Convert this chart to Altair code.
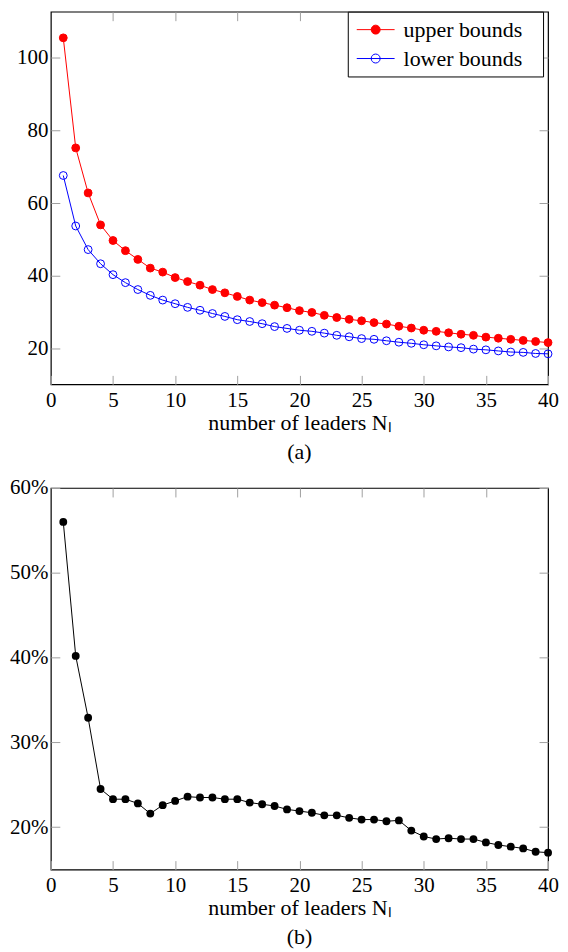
import altair as alt
import pandas as pd

# ---- data ----
N = list(range(1, 41))
upper = [105.5, 75.2, 62.8, 54.0, 49.7, 46.9, 44.5, 42.1, 41.0, 39.5,
         38.4, 37.4, 36.2, 35.3, 34.3, 33.3, 32.6, 31.9, 31.2, 30.4,
         29.9, 29.1, 28.5, 28.0, 27.6, 27.1, 26.7, 26.1, 25.6, 25.0,
         24.7, 24.3, 23.9, 23.6, 23.1, 22.8, 22.5, 22.2, 21.9, 21.6]
lower = [67.6, 53.7, 47.2, 43.3, 40.3, 38.1, 36.2, 34.6, 33.3, 32.3,
         31.3, 30.5, 29.6, 28.8, 27.9, 27.4, 26.8, 26.0, 25.5, 25.0,
         24.7, 24.2, 23.6, 23.2, 22.7, 22.5, 22.1, 21.7, 21.4, 21.0,
         20.7, 20.4, 20.2, 19.8, 19.6, 19.3, 19.0, 18.9, 18.6, 18.5]
gap_pct = [56.0, 40.2, 32.9, 24.5, 23.3, 23.3, 22.8, 21.6, 22.6, 23.1,
           23.6, 23.5, 23.5, 23.3, 23.3, 22.9, 22.7, 22.5, 22.1, 21.9,
           21.7, 21.4, 21.4, 21.1, 20.9, 20.9, 20.7, 20.8, 19.6, 18.9,
           18.6, 18.7, 18.6, 18.6, 18.2, 17.9, 17.7, 17.5, 17.1, 17.0]
series_names = ["upper bounds", "lower bounds"]
x_ticks = [0, 5, 10, 15, 20, 25, 30, 35, 40]
x_inner = [5, 10, 15, 20, 25, 30, 35]
ya_ticks = [20, 40, 60, 80, 100]
yb_ticks = [20, 30, 40, 50, 60]
x_title = "number of leaders Nₗ"

FONT = "Liberation Serif"
FS = 22       # titles / legend
LFS = 21      # tick labels
TICK = 9
GREY = "#a0a0a0"
W = 499

df_a = pd.DataFrame({
    "N": N + N,
    "value": upper + lower,
    "series": [series_names[0]] * len(N) + [series_names[1]] * len(N),
})
df_b = pd.DataFrame({"N": N, "gap": gap_pct})

SYM = "M-3.8,0L3.8,0M0.9,0A0.9,0.9,0,1,1,-0.9,0A0.9,0.9,0,1,1,0.9,0"
legend = alt.Legend(
    title=".", titleOrient="right", titleColor="white", titleFont=FONT,
    titleFontSize=FS, titlePadding=8,
    orient="none", legendX=298, legendY=0,
    strokeColor="black", fillColor="white", padding=7, cornerRadius=0,
    labelFont=FONT, labelFontSize=FS, labelColor="black", rowPadding=7,
    symbolType=SYM, symbolSize=100, symbolStrokeWidth=1, symbolOffset=10,
    labelOffset=17,
)
stroke_enc = alt.Stroke("series:N", scale=alt.Scale(domain=series_names, range=["#ff0000", "#0000ff"]), legend=legend)
fill_enc = alt.Fill("series:N", scale=alt.Scale(domain=series_names, range=["#ff0000", "transparent"]), legend=legend)


def x_axes(title):
    main = alt.Axis(orient="bottom", values=x_ticks, offset=-TICK, tickSize=TICK,
                    labelPadding=5, labelFlush=False, title=title, titlePadding=2)
    top = alt.Axis(orient="top", values=x_inner, offset=-TICK, tickSize=TICK,
                   labels=False, title=None, minExtent=0, maxExtent=0)
    return main, top


def y_axes(vals, expr=None):
    kw = dict(orient="left", values=vals, offset=-TICK, tickSize=TICK, labelPadding=3,
              title=None, minExtent=0)
    if expr:
        kw["labelExpr"] = expr
    main = alt.Axis(**kw)
    right = alt.Axis(orient="right", values=vals, offset=-TICK, tickSize=TICK, labels=False,
                     title=None, minExtent=0, maxExtent=0)
    return main, right


xa_main, xa_top = x_axes(x_title)
ya_main, ya_right = y_axes(ya_ticks)
xs = alt.Scale(domain=[0, 40], nice=False)
ya_s = alt.Scale(domain=[10.1, 112.7], nice=False, zero=False)

line_a = alt.Chart(df_a).mark_line(strokeWidth=1).encode(
    x=alt.X("N:Q", scale=xs, axis=xa_main),
    y=alt.Y("value:Q", scale=ya_s, axis=ya_main),
    stroke=stroke_enc,
)
pts_a = alt.Chart(df_a).mark_point(shape="circle", size=62, strokeWidth=1, opacity=1).encode(
    x=alt.X("N:Q", scale=xs, axis=xa_top),
    y=alt.Y("value:Q", scale=ya_s, axis=ya_right),
    stroke=stroke_enc,
    fill=fill_enc,
)
top = alt.layer(line_a, pts_a).resolve_axis(x="independent", y="independent").properties(
    width=W, height=374,
    title=alt.TitleParams("(a)", orient="bottom", anchor="middle", frame="group", offset=9),
)

xb_main, xb_top = x_axes(x_title)
yb_main, yb_right = y_axes(yb_ticks, "datum.value + '%'")
yb_s = alt.Scale(domain=[15, 60], nice=False, zero=False)
line_b = alt.Chart(df_b).mark_line(strokeWidth=1, color="black").encode(
    x=alt.X("N:Q", scale=xs, axis=xb_main),
    y=alt.Y("gap:Q", scale=yb_s, axis=yb_main),
)
pts_b = alt.Chart(df_b).mark_point(shape="circle", size=62, filled=True, color="black", opacity=1).encode(
    x=alt.X("N:Q", scale=xs, axis=xb_top),
    y=alt.Y("gap:Q", scale=yb_s, axis=yb_right),
)
bottom = alt.layer(line_b, pts_b).resolve_axis(x="independent", y="independent").properties(
    width=W, height=383,
    title=alt.TitleParams("(b)", orient="bottom", anchor="middle", frame="group", offset=9),
)

chart = alt.vconcat(top, bottom, spacing=12).properties(
    padding={"left": 0, "top": 0, "right": 0, "bottom": 0}
).configure_view(
    stroke="black", strokeWidth=1.2
).configure_axis(
    labelFont=FONT, labelFontSize=LFS, labelColor="black",
    titleFont=FONT, titleFontSize=FS, titleFontWeight="normal", titleColor="black",
    tickColor=GREY, tickWidth=1, grid=False, domain=False,
).configure_title(
    font=FONT, fontSize=FS, fontWeight="normal", color="black"
)

chart.save("out.html", embed_options={"renderer": "svg", "actions": False})
